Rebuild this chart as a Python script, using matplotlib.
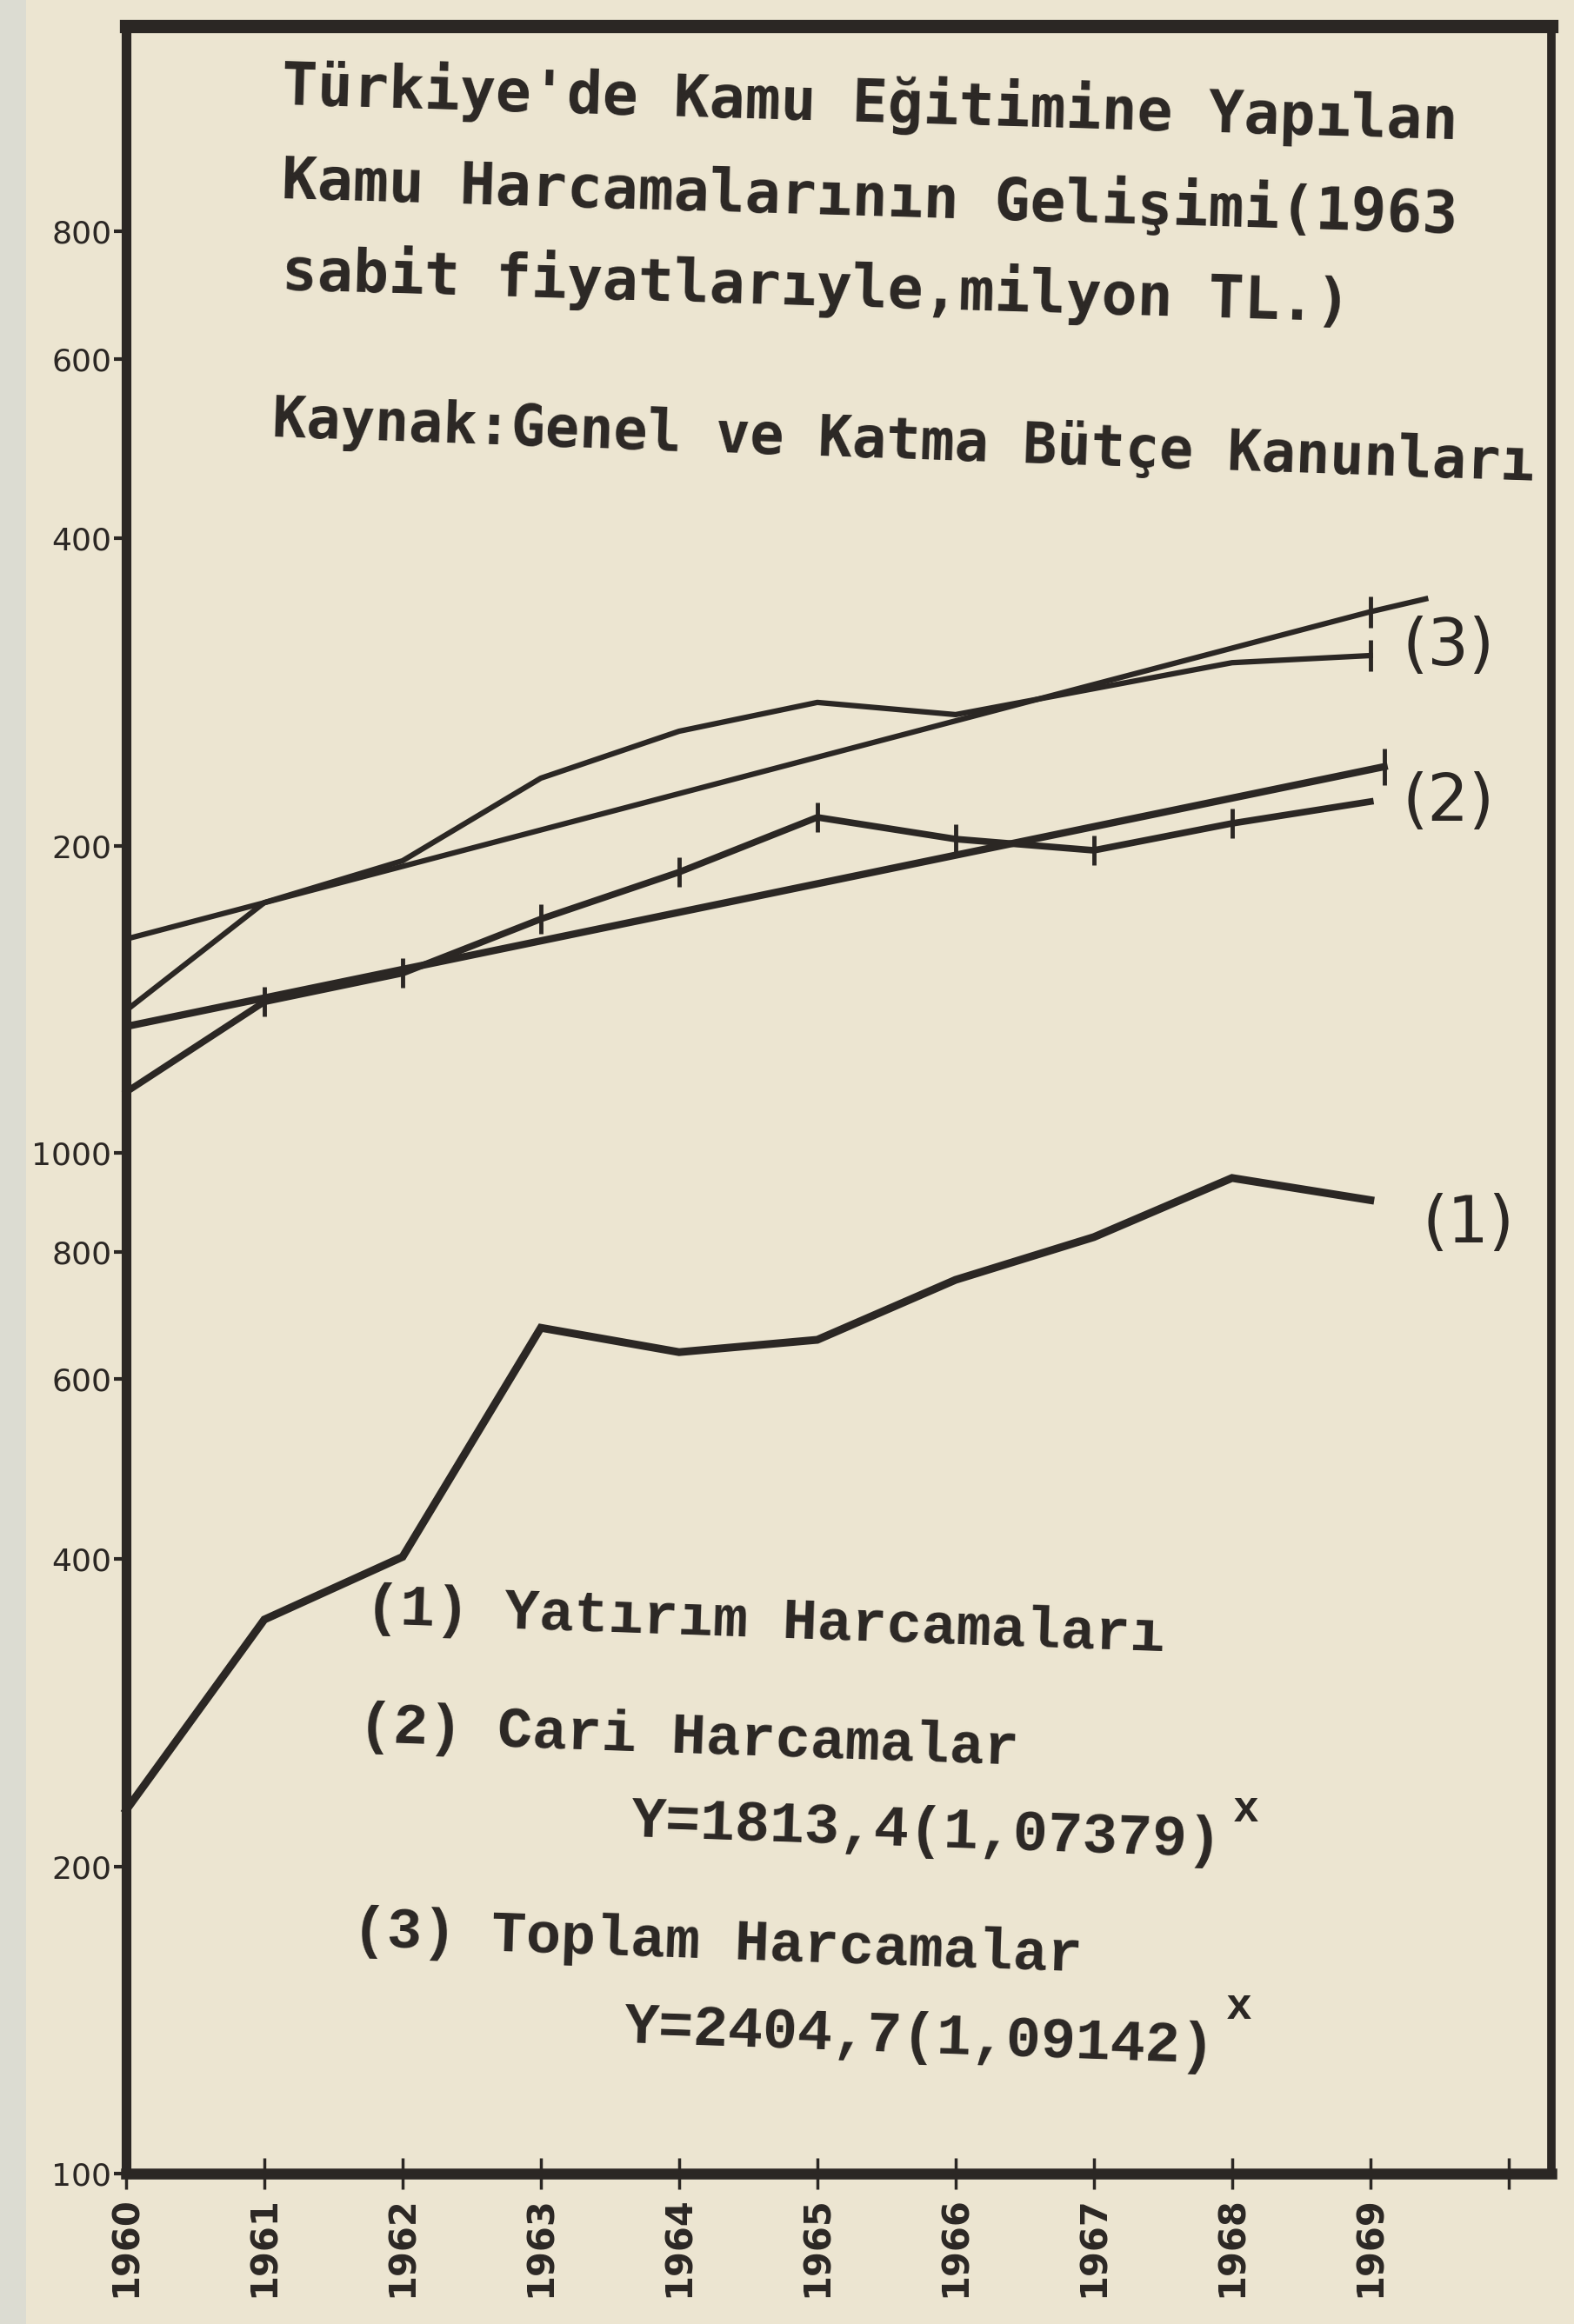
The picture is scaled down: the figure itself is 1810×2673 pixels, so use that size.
import matplotlib
matplotlib.use("Agg")
import matplotlib.pyplot as plt
from matplotlib.patches import Rectangle

# ---------------- data ----------------
years = [1960, 1961, 1962, 1963, 1964, 1965, 1966, 1967, 1968, 1969]
yatirim = [227, 349, 402, 674, 638, 656, 751, 827, 945, 899]          # (1)
cari = [1147, 1406, 1500, 1695, 1884, 2132, 2030, 1979, 2103, 2209]   # (2)
toplam = [1379, 1759, 1933, 2329, 2589, 2763, 2688, 2850, 3022, 3071] # (3)

# fitted trend lines as drawn (end points)
trend2_x = [1960, 1969.1]
trend2_y = [1330, 2390]
trend3_x = [1960, 1969, 1969.4]
trend3_y = [1620, 3390, 3490]

ytick_vals = [100, 200, 400, 600, 800, 1000, 2000, 4000, 6000, 8000]
ytick_labels = ["100", "200", "400", "600", "800", "1000", "200", "400", "600", "800"]
xtick_vals = years + [1970]
xtick_labels = [str(y) for y in years] + [""]

title_lines = ["Türkiye'de Kamu Eğitimine Yapılan",
               "Kamu Harcamalarının Gelişimi(1963",
               "sabit fiyatlarıyle,milyon TL.)"]
source_line = "Kaynak:Genel ve Katma Bütçe Kanunları"
legend_lines = ["(1) Yatırım Harcamaları",
                "(2) Cari Harcamalar",
                "Y=1813,4(1,07379)",
                "(3) Toplam Harcamalar",
                "Y=2404,7(1,09142)"]
end_labels = ["(1)", "(2)", "(3)"]

# ---------------- style ----------------
W, H = 1810, 2673
paper = "#ece5d1"
ink = "#2b2724"

fig = plt.figure(figsize=(W / 100, H / 100), dpi=100, facecolor=paper)
fig.patches.append(Rectangle((0, 0), 30 / W, 1, transform=fig.transFigure,
                             facecolor="#dcdcd2", edgecolor="none", zorder=0))

def px(x, y):
    return x / W, 1 - y / H

left, right, top, bottom = 145, 1784, 30, 2500
ax = fig.add_axes([left / W, (H - bottom) / H, (right - left) / W, (bottom - top) / H])
ax.set_facecolor(paper)
ax.set_yscale("log")
ax.set_xlim(1960, 1970.31)
ax.set_ylim(100, 12706)

for side, lw in [("top", 11), ("left", 8), ("bottom", 9), ("right", 7)]:
    ax.spines[side].set_linewidth(lw)
    ax.spines[side].set_color(ink)

ax.yaxis.set_minor_locator(matplotlib.ticker.NullLocator())
ax.set_yticks(ytick_vals)
ax.set_yticklabels(ytick_labels, fontsize=26, family="DejaVu Sans", color=ink)
ax.tick_params(axis="y", direction="out", length=10, width=3, color=ink, pad=2)

ax.set_xticks(xtick_vals)
ax.set_xticklabels(xtick_labels, rotation=90, fontsize=30, family="DejaVu Sans",
                   fontweight="bold", color=ink)
ax.tick_params(axis="x", direction="inout", length=26, width=2.5, color=ink, pad=6)

# ---------------- lines ----------------
ax.plot(years, yatirim, color=ink, lw=6.5, solid_joinstyle="miter", clip_on=False, zorder=3)
ax.plot(years, cari, color=ink, lw=5.5, marker="|", ms=24, mew=3.5,
        markevery=list(range(1, 9)), clip_on=False, zorder=3)
ax.plot(years, toplam, color=ink, lw=4.5, marker="|", ms=26, mew=3.5,
        markevery=[9], clip_on=False, zorder=3)
ax.plot(trend2_x, trend2_y, color=ink, lw=6, marker="|", ms=30, mew=3.5,
        markevery=[0, 1], clip_on=False, zorder=3)
ax.plot(trend3_x, trend3_y, color=ink, lw=4.5, marker="|", ms=26, mew=3.5,
        markevery=[1], clip_on=False, zorder=3)

# ---------------- texts ----------------
title_pos = [(323, 120), (323, 228), (323, 333)]
for (x, y), t in zip(title_pos, title_lines):
    fig.text(*px(x, y), t, fontsize=49, family="DejaVu Sans Mono", fontweight="bold",
             color=ink, ha="left", va="baseline", rotation=-1.7, rotation_mode="anchor")
fig.text(*px(312, 502), source_line, fontsize=47, family="DejaVu Sans Mono",
         fontweight="bold", color=ink, ha="left", va="baseline", rotation=-2.0,
         rotation_mode="anchor")

legend_pos = [(419, 1867), (411, 2003), (725, 2112), (404, 2238), (717, 2349)]
for (x, y), t in zip(legend_pos, legend_lines):
    fig.text(*px(x, y), t, fontsize=48, family="Liberation Mono", fontweight="bold",
             color=ink, ha="left", va="baseline", rotation=-2.0, rotation_mode="anchor")
for (x, y) in [(1418, 2095), (1410, 2322)]:
    fig.text(*px(x, y), "x", fontsize=36, family="Liberation Mono", fontweight="bold",
             color=ink, ha="left", va="baseline")

end_pos = [(1635, 1408), (1612, 923), (1612, 745)]
for (x, y), t in zip(end_pos, end_labels):
    fig.text(*px(x, y), t, fontsize=54, family="DejaVu Sans", color=ink,
             ha="left", va="center")

fig.savefig("out.png", dpi=100, facecolor=paper)
